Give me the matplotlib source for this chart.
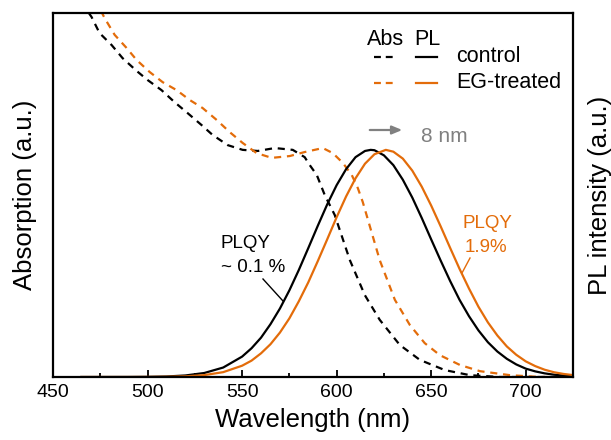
import matplotlib
matplotlib.use("Agg")
import matplotlib.pyplot as plt

plt.rcParams['font.family'] = ['Liberation Sans', 'DejaVu Sans']

ORANGE = '#E36C0A'
GRAY = '#808080'

# ---- data (wavelength in nm, intensities in normalized a.u.) ----
abs_ctrl_wl = [465, 470.4, 474.6, 481.0, 486.8, 494.2, 500.0, 507.4, 514.3, 521.2, 528.6,
               534.4, 542.4, 550.3, 558.3, 567.3, 576.8, 583.1, 585.8, 589.5, 593.7,
               599.0, 607.0, 614.9, 622.8, 633.4, 644.0, 657.2, 670.5, 686.3, 700, 725]
abs_ctrl = [1.03, 0.989, 0.945, 0.912, 0.876, 0.841, 0.816, 0.788, 0.755, 0.725, 0.692,
            0.665, 0.637, 0.624, 0.621, 0.629, 0.624, 0.604, 0.582, 0.555, 0.500,
            0.445, 0.321, 0.225, 0.157, 0.088, 0.047, 0.019, 0.005, 0.0, 0.0, 0.0]

abs_eg_wl = [472, 477.3, 482.6, 488.9, 494.2, 501.1, 508.0, 515.4, 522.3, 529.1, 536.6,
             543.4, 550.3, 557.7, 565.7, 575.2, 583.1, 592.7, 598.0, 603.3, 608.0,
             611.2, 613.8, 622.8, 630.8, 638.7, 646.6, 654.6, 665.2, 675.8, 691.7,
             707.6, 725]
abs_eg = [1.04, 0.986, 0.940, 0.904, 0.871, 0.838, 0.810, 0.788, 0.761, 0.739, 0.706,
          0.673, 0.643, 0.615, 0.602, 0.607, 0.618, 0.629, 0.615, 0.588, 0.555,
          0.519, 0.481, 0.321, 0.212, 0.143, 0.093, 0.060, 0.033, 0.016, 0.005,
          0.0, 0.0]

pl_ctrl_wl = [465, 490, 500, 510, 520, 530, 540, 550, 555, 560, 565, 570, 575, 580, 585,
              590, 595, 600, 605, 610, 615, 618, 620, 625, 630, 635, 640, 645, 650, 655,
              660, 665, 670, 675, 680, 685, 690, 695, 700, 705, 710, 715, 720, 725]
pl_ctrl = [0.0, 0.0001, 0.0004, 0.0014, 0.0042, 0.011, 0.026, 0.056, 0.079, 0.108, 0.145,
           0.188, 0.238, 0.294, 0.354, 0.415, 0.474, 0.527, 0.571, 0.604, 0.621, 0.624,
           0.623, 0.609, 0.582, 0.542, 0.493, 0.437, 0.378, 0.320, 0.264, 0.212, 0.167,
           0.128, 0.0955, 0.070, 0.050, 0.0345, 0.023, 0.0155, 0.010, 0.0063, 0.0039,
           0.0023]

pl_eg_wl = [465, 490, 500, 510, 520, 530, 540, 550, 555, 560, 565, 570, 575, 580, 585,
            590, 595, 600, 605, 610, 615, 620, 626, 630, 635, 640, 645, 650, 655, 660,
            665, 670, 675, 680, 685, 690, 695, 700, 705, 710, 715, 720, 725]
pl_eg = [0.0, 0.0, 0.0002, 0.0006, 0.0018, 0.0052, 0.0133, 0.031, 0.045, 0.065, 0.090,
         0.122, 0.161, 0.208, 0.260, 0.318, 0.378, 0.439, 0.496, 0.546, 0.586, 0.612,
         0.624, 0.619, 0.600, 0.567, 0.523, 0.471, 0.414, 0.355, 0.297, 0.243, 0.193,
         0.150, 0.114, 0.084, 0.061, 0.043, 0.030, 0.020, 0.013, 0.0084, 0.0052]

x_ticks = [450, 500, 550, 600, 650, 700]

# ---- figure ----
fig = plt.figure(figsize=(6.11, 4.40), dpi=100)
ax = fig.add_axes([53/611, 1-377/440, 520/611, 364/440])

lw = 1.6
dash = (0, (3.2, 2.6))
ax.plot(abs_ctrl_wl, abs_ctrl, color='black', lw=lw, linestyle=dash)
ax.plot(abs_eg_wl, abs_eg, color=ORANGE, lw=lw, linestyle=dash)
ax.plot(pl_ctrl_wl, pl_ctrl, color='black', lw=lw)
ax.plot(pl_eg_wl, pl_eg, color=ORANGE, lw=lw)

ax.set_xlim(450, 725)
ax.set_ylim(0, 1)
ax.set_xticks(x_ticks)
ax.set_xticks([475, 525, 575, 625, 675, 725], minor=True)
ax.set_yticks([])
ax.tick_params(axis='x', which='both', direction='in', top=False, labelsize=14,
               width=1.3, pad=5)
ax.tick_params(axis='x', which='major', length=5)
ax.tick_params(axis='x', which='minor', length=3)
for s in ax.spines.values():
    s.set_linewidth(1.6)

ax.set_xlabel('Wavelength (nm)', fontsize=18.5, labelpad=5)
fig.text(25/611, 1-195/440, 'Absorption (a.u.)', rotation=90, fontsize=18.5,
         ha='center', va='center')
fig.text(600/611, 1-195/440, 'PL intensity (a.u.)', rotation=90, fontsize=18.5,
         ha='center', va='center')

# ---- custom legend ----
T = ax.transAxes
def axx(px):
    return (px - 53) / 520
def axy(py):
    return (377 - py) / 364

lfs = 15.5
ax.text(axx(367), axy(45), 'Abs', fontsize=lfs, transform=T, va='baseline', ha='left')
ax.text(axx(414), axy(45), 'PL', fontsize=lfs, transform=T, va='baseline', ha='left')
for py, col, lab in [(57, 'black', 'control'), (83, ORANGE, 'EG-treated')]:
    ax.plot([axx(374), axx(393)], [axy(py), axy(py)], transform=T, color=col, lw=lw,
            linestyle=(0, (3.1, 2.2)), clip_on=False)
    ax.plot([axx(416), axx(437)], [axy(py), axy(py)], transform=T, color=col, lw=lw,
            clip_on=False)
    ax.text(axx(456), axy(py), lab, fontsize=lfs, transform=T, va='center', ha='left')

# ---- shift arrow ----
ax.annotate('', xy=(axx(405), axy(130)), xytext=(axx(367), axy(130)),
            xycoords=T, textcoords=T,
            arrowprops=dict(arrowstyle='-|>,head_length=0.6,head_width=0.25',
                            color=GRAY, lw=1.6))
ax.text(axx(421), axy(142), '8 nm', fontsize=15, color=GRAY, transform=T,
        va='baseline', ha='left')

# ---- PLQY annotations ----
afs = 13.5
ax.text(axx(221), axy(248), 'PLQY', fontsize=afs, transform=T, va='baseline', ha='left')
ax.text(axx(221), axy(272), '~ 0.1 %', fontsize=afs, transform=T, va='baseline', ha='left')
ax.plot([axx(263), axx(283)], [axy(279), axy(301)], transform=T, color='black', lw=1.0)

ax.text(axx(462), axy(228), 'PLQY', fontsize=afs, color=ORANGE, transform=T,
        va='baseline', ha='left')
ax.text(axx(465), axy(252), '1.9%', fontsize=afs, color=ORANGE, transform=T,
        va='baseline', ha='left')
ax.plot([axx(470), axx(462)], [axy(258), axy(273)], transform=T, color=ORANGE, lw=1.0)

fig.savefig('out.png', dpi=100)
